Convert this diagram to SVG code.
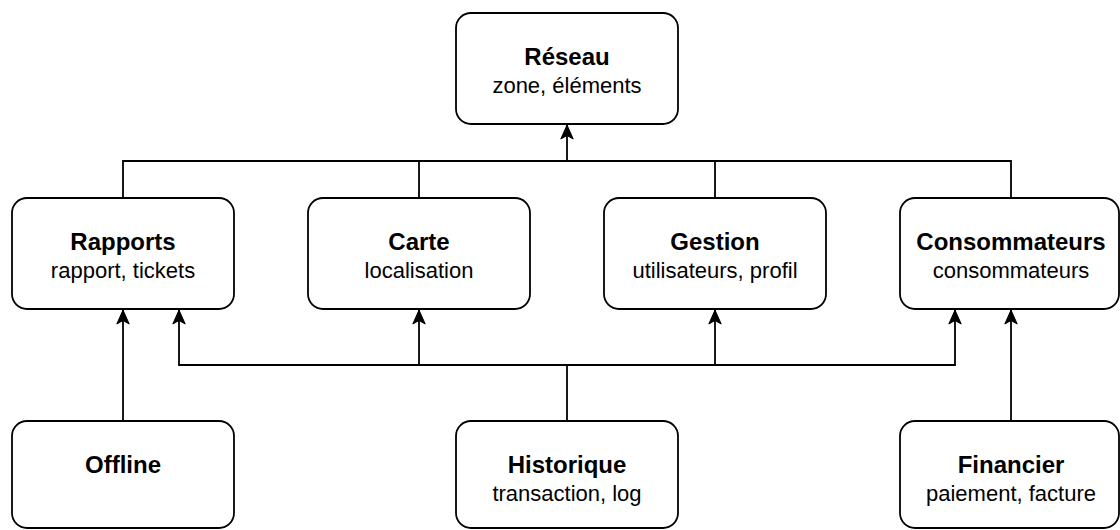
<svg xmlns="http://www.w3.org/2000/svg" width="1120" height="530" viewBox="0 0 1120 530">
<style>
.box{fill:#ffffff;stroke:#000000;stroke-width:1.8}
.t{font-family:"Liberation Sans",Arial,Helvetica,sans-serif;font-size:24px;font-weight:bold;fill:#000;text-anchor:middle}
.s{font-family:"Liberation Sans",Arial,Helvetica,sans-serif;font-size:22px;fill:#000;text-anchor:middle}
.e{fill:none;stroke:#000000;stroke-width:1.8}
</style>
<defs>
<marker id="arr" markerWidth="16" markerHeight="16" viewBox="0 0 16 16" refX="15" refY="8" orient="auto" markerUnits="userSpaceOnUse">
<path d="M15,8 L1,1.8 L4.5,8 L1,14.2 Z" fill="#000" stroke="#000" stroke-width="1"/>
</marker>
</defs>
<rect width="1120" height="530" fill="#ffffff"/>
<g id="connectors">
<path class="e" d="M123,198 V161 H1011 V198"/>
<path class="e" d="M419,198 V161"/>
<path class="e" d="M715,198 V161"/>
<path class="e" d="M567,161 V125" marker-end="url(#arr)"/>
<path class="e" d="M567,421 V365"/>
<path class="e" d="M567,365 H179 V310" marker-end="url(#arr)"/>
<path class="e" d="M567,365 H955 V310" marker-end="url(#arr)"/>
<path class="e" d="M419,365 V310" marker-end="url(#arr)"/>
<path class="e" d="M715,365 V310" marker-end="url(#arr)"/>
<path class="e" d="M123,421 V310" marker-end="url(#arr)"/>
<path class="e" d="M1011,421 V310" marker-end="url(#arr)"/>
</g>
<g id="reseau">
<rect class="box" x="456" y="13" width="222" height="111" rx="15"/>
<text class="t" x="567" y="65">Réseau</text>
<text class="s" x="567" y="93">zone, éléments</text>
</g>
<g id="rapports">
<rect class="box" x="12" y="198" width="222" height="111" rx="15"/>
<text class="t" x="123" y="250">Rapports</text>
<text class="s" x="123" y="278">rapport, tickets</text>
</g>
<g id="carte">
<rect class="box" x="308" y="198" width="222" height="111" rx="15"/>
<text class="t" x="419" y="250">Carte</text>
<text class="s" x="419" y="278">localisation</text>
</g>
<g id="gestion">
<rect class="box" x="604" y="198" width="222" height="111" rx="15"/>
<text class="t" x="715" y="250">Gestion</text>
<text class="s" x="715" y="278">utilisateurs, profil</text>
</g>
<g id="consommateurs">
<rect class="box" x="900" y="198" width="219" height="111" rx="15"/>
<text class="t" x="1011" y="250">Consommateurs</text>
<text class="s" x="1011" y="278">consommateurs</text>
</g>
<g id="offline">
<rect class="box" x="12" y="421" width="222" height="107" rx="15"/>
<text class="t" x="123" y="473">Offline</text>
</g>
<g id="historique">
<rect class="box" x="456" y="421" width="222" height="107" rx="15"/>
<text class="t" x="567" y="473">Historique</text>
<text class="s" x="567" y="501">transaction, log</text>
</g>
<g id="financier">
<rect class="box" x="900" y="421" width="219" height="107" rx="15"/>
<text class="t" x="1011" y="473">Financier</text>
<text class="s" x="1011" y="501">paiement, facture</text>
</g>
</svg>
